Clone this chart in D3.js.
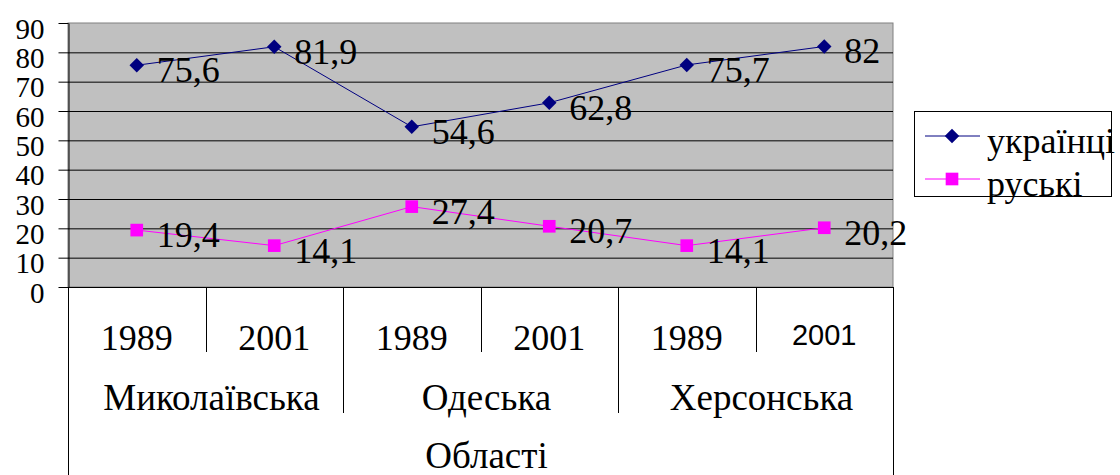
<!DOCTYPE html>
<html>
<head>
<meta charset="utf-8">
<script src="https://cdn.jsdelivr.net/npm/d3@7"></script>
<style>
  body { margin: 0; background: #fff; }
</style>
</head>
<body>
<div id="chart"></div>
<script>
const regions = ["Миколаївська", "Одеська", "Херсонська"];
const years = ["1989", "2001"];
const ukrainians = [75.6, 81.9, 54.6, 62.8, 75.7, 82];
const russians = [19.4, 14.1, 27.4, 20.7, 14.1, 20.2];
const yTicks = [0, 10, 20, 30, 40, 50, 60, 70, 80, 90];
const axisTitle = "Області";
const seriesNames = ["українці", "руські"];

const keys = regions.flatMap(r => years.map(y => r + "|" + y));

const width = 1120, height = 475;
const plotLeft = 68, plotRight = 893, plotTop = 23, plotBottom = 287;
const serif = "'Liberation Serif', 'Times New Roman', serif";
const sans = "'Liberation Sans', Arial, sans-serif";

const svg = d3.select("#chart").append("svg")
  .attr("width", width)
  .attr("height", height);

const x = d3.scaleBand().domain(keys).range([plotLeft, plotRight]);
const y = d3.scaleLinear().domain([0, 90]).range([plotBottom, plotTop]);
const region = d3.scaleBand().domain(regions).range([plotLeft, plotRight]);

// plot background
svg.append("rect")
  .attr("x", plotLeft).attr("y", plotTop)
  .attr("width", plotRight - plotLeft).attr("height", plotBottom - plotTop)
  .attr("fill", "#c0c0c0")
  .attr("stroke", "#808080");

// gridlines
svg.append("g")
  .selectAll("line")
  .data(yTicks.filter(d => d > 0 && d < 90))
  .join("line")
  .attr("x1", plotLeft).attr("x2", plotRight)
  .attr("y1", d => y(d) + 0.5).attr("y2", d => y(d) + 0.5)
  .attr("stroke", "#000");

// y axis
const yAxis = svg.append("g")
  .attr("transform", `translate(${plotLeft + 0.5},0)`)
  .call(d3.axisLeft(y).tickValues(yTicks).tickSize(10).tickPadding(14).tickSizeOuter(0));
yAxis.select(".domain").attr("stroke", "#000");
yAxis.selectAll(".tick line").attr("stroke", "#000");
yAxis.selectAll(".tick text")
  .style("font-family", serif)
  .style("font-size", "29px")
  .attr("fill", "#000")
  .attr("dy", "0.52em");

// x axis baseline
svg.append("line")
  .attr("x1", plotLeft).attr("x2", plotRight)
  .attr("y1", plotBottom + 0.5).attr("y2", plotBottom + 0.5)
  .attr("stroke", "#000");

// category dividers
const bounds = d3.range(keys.length + 1);
svg.append("g")
  .selectAll("line")
  .data(bounds)
  .join("line")
  .attr("x1", i => Math.round(plotLeft + i * x.step()) + 0.5)
  .attr("x2", i => Math.round(plotLeft + i * x.step()) + 0.5)
  .attr("y1", plotBottom)
  .attr("y2", i => (i === 0 || i === keys.length) ? height : (i % 2 === 0 ? 413 : 352))
  .attr("stroke", "#000");

// year labels
svg.append("g")
  .selectAll("text")
  .data(keys)
  .join("text")
  .attr("x", d => x(d) + x.bandwidth() / 2)
  .attr("y", (d, i) => i === keys.length - 1 ? 345 : 350)
  .attr("text-anchor", "middle")
  .style("font-size", (d, i) => i === keys.length - 1 ? "29px" : "36px")
  .style("font-family", (d, i) => i === keys.length - 1 ? sans : serif)
  .text(d => d.split("|")[1]);

// region labels
svg.append("g")
  .selectAll("text")
  .data(regions)
  .join("text")
  .attr("x", d => region(d) + region.bandwidth() / 2 + 6)
  .attr("y", 410)
  .attr("text-anchor", "middle")
  .style("font-family", serif)
  .style("font-size", "37px")
  .text(d => d);

svg.append("text")
  .attr("x", (plotLeft + plotRight) / 2 + 6)
  .attr("y", 468)
  .attr("text-anchor", "middle")
  .style("font-family", serif)
  .style("font-size", "37px")
  .text(axisTitle);

// series
const series = [
  { name: seriesNames[0], values: ukrainians, color: "#000080", symbol: d3.symbolSquare, size: 105, rotate: 45 },
  { name: seriesNames[1], values: russians, color: "#ff00ff", symbol: d3.symbolSquare, size: 160, rotate: 0 }
];

const cx = i => x(keys[i]) + x.bandwidth() / 2;
const line = d3.line().x((d, i) => cx(i)).y(d => y(d));
const fmt = v => String(v).replace(".", ",");

series.forEach(s => {
  svg.append("path")
    .datum(s.values)
    .attr("d", line)
    .attr("fill", "none")
    .attr("stroke", s.color)
    .attr("stroke-width", 1);

  svg.append("g")
    .selectAll("path")
    .data(s.values)
    .join("path")
    .attr("d", d3.symbol().type(s.symbol).size(s.size))
    .attr("transform", (d, i) => `translate(${cx(i)},${y(d)}) rotate(${s.rotate})`)
    .attr("fill", s.color);

  svg.append("g")
    .selectAll("text")
    .data(s.values)
    .join("text")
    .attr("x", (d, i) => cx(i) + 20)
    .attr("y", d => y(d) + 17)
    .style("font-family", serif)
    .style("font-size", "36px")
    .text(fmt);
});

// legend
const legend = svg.append("g");
legend.append("rect")
  .attr("x", 914.5).attr("y", 111.5)
  .attr("width", 197).attr("height", 85)
  .attr("fill", "#fff")
  .attr("stroke", "#000");

series.forEach((s, k) => {
  const ly = 136 + k * 43;
  legend.append("line")
    .attr("x1", 925).attr("x2", 980)
    .attr("y1", ly).attr("y2", ly)
    .attr("stroke", s.color);
  legend.append("path")
    .attr("d", d3.symbol().type(s.symbol).size(s.size))
    .attr("transform", `translate(952,${ly}) rotate(${s.rotate})`)
    .attr("fill", s.color);
  legend.append("text")
    .attr("x", 987)
    .attr("y", ly + 17)
    .style("font-family", serif)
    .style("font-size", "36px")
    .text(s.name);
});
</script>
</body>
</html>
